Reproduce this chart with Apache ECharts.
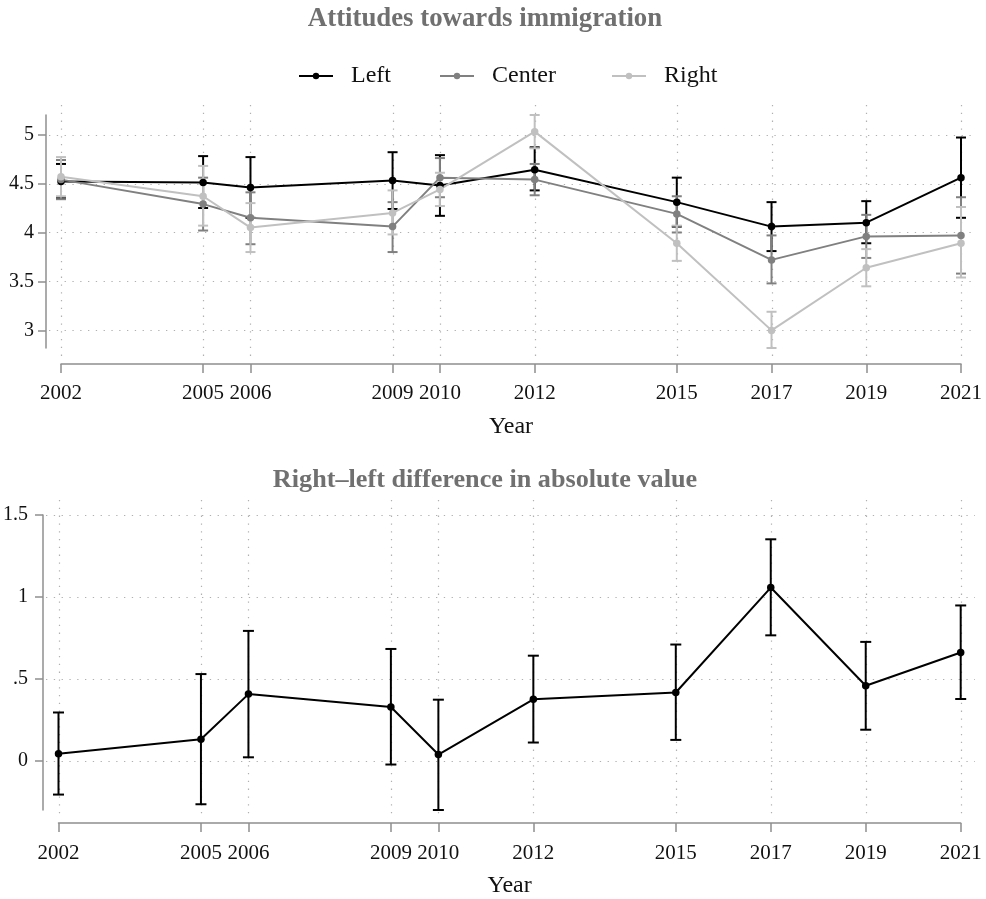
<!DOCTYPE html>
<html><head><meta charset="utf-8">
<script src="https://cdn.jsdelivr.net/npm/echarts@6/dist/echarts.min.js"></script>
<style>html,body{margin:0;padding:0;background:#fff}#c{width:986px;height:899px}</style>
</head><body><div id="c"></div>
<script>
// ---------------- data ----------------
const years = [2002, 2005, 2006, 2009, 2010, 2012, 2015, 2017, 2019, 2021];

const leftMean   = [4.52, 4.51, 4.46, 4.53, 4.48, 4.64, 4.31, 4.06, 4.10, 4.56];
const leftLow    = [4.35, 4.25, 4.15, 4.24, 4.17, 4.43, 4.06, 3.81, 3.89, 4.15];
const leftHigh   = [4.70, 4.78, 4.77, 4.82, 4.79, 4.87, 4.56, 4.31, 4.32, 4.97];

const centerMean = [4.54, 4.29, 4.15, 4.06, 4.56, 4.54, 4.19, 3.72, 3.96, 3.97];
const centerLow  = [4.34, 4.02, 3.88, 3.80, 4.36, 4.38, 4.00, 3.48, 3.74, 3.58];
const centerHigh = [4.74, 4.56, 4.41, 4.31, 4.76, 4.70, 4.37, 3.97, 4.18, 4.36];

const rightMean  = [4.57, 4.37, 4.05, 4.20, 4.44, 5.03, 3.89, 3.00, 3.64, 3.89];
const rightLow   = [4.37, 4.07, 3.80, 3.98, 4.27, 4.86, 3.71, 2.82, 3.45, 3.54];
const rightHigh  = [4.77, 4.68, 4.30, 4.43, 4.61, 5.20, 4.07, 3.19, 3.83, 4.26];

const diffMean   = [0.045, 0.134, 0.409, 0.330, 0.041, 0.377, 0.419, 1.058, 0.460, 0.662];
const diffLow    = [-0.203, -0.262, 0.024, -0.020, -0.297, 0.114, 0.130, 0.767, 0.192, 0.379];
const diffHigh   = [0.297, 0.531, 0.794, 0.684, 0.375, 0.643, 0.711, 1.352, 0.727, 0.949];

const topYTicks    = [3, 3.5, 4, 4.5, 5];
const topYLabels   = ['3', '3.5', '4', '4.5', '5'];
const bottomYTicks = [0, 0.5, 1, 1.5];
const bottomYLabels= ['0', '.5', '1', '1.5'];
const xTickLabels  = years.map(String);

const seriesNames = ['Left', 'Center', 'Right'];
const titleTop    = 'Attitudes towards immigration';
const titleBottom = 'Right\u2013left difference in absolute value';
const xTitle      = 'Year';

// ---------------- style / layout ----------------
const FONT = "'Liberation Serif', 'DejaVu Serif', serif";
const COLORS = ['#000000', '#808080', '#c0c0c0'];
const AXIS_COLOR = '#8f8f8f';
const GRID_COLOR = '#b0b0b0';

const panels = [
  { plot: {l: 46, r: 976, t: 105, b: 357}, xAx: {x0: 61, x1: 961, y: 364}, yAx: {x: 46, t: 115, b: 348},
    yTicks: topYTicks, yLabels: topYLabels, yMargin: 12, cap: 5, xMargin: 19,
    groups: [
      {name: 'Left', mean: leftMean, low: leftLow, high: leftHigh, color: COLORS[0]},
      {name: 'Center', mean: centerMean, low: centerLow, high: centerHigh, color: COLORS[1]},
      {name: 'Right', mean: rightMean, low: rightLow, high: rightHigh, color: COLORS[2]}
    ]},
  { plot: {l: 43, r: 975, t: 500, b: 818}, xAx: {x0: 58.5, x1: 960.7, y: 825}, yAx: {x: 43, t: 515, b: 810},
    yTicks: bottomYTicks, yLabels: bottomYLabels, yMargin: 15, cap: 5.5, xMargin: 20,
    groups: [
      {name: 'Difference', mean: diffMean, low: diffLow, high: diffHigh, color: COLORS[0]}
    ]}
];

const grids = [], xAxes = [], yAxes = [], series = [];

panels.forEach((p, pi) => {
  const allLow = [].concat(...p.groups.map(g => g.low));
  const allHigh = [].concat(...p.groups.map(g => g.high));
  const a = Math.min(Math.min(...allLow), p.yTicks[0]);
  const b = Math.max(Math.max(...allHigh), p.yTicks[p.yTicks.length - 1]);
  const xFirst = years[0], xLast = years[years.length - 1];
  const xk = (p.xAx.x1 - p.xAx.x0) / (xLast - xFirst);
  const yk = (p.yAx.b - p.yAx.t) / (b - a);
  const pxMin = xFirst - (p.xAx.x0 - p.plot.l) / xk;
  const pxMax = xLast + (p.plot.r - p.xAx.x1) / xk;
  const pyMax = b + (p.yAx.t - p.plot.t) / yk;
  const pyMin = a - (p.plot.b - p.yAx.b) / yk;

  const gPlot = grids.length;
  grids.push({left: p.plot.l, top: p.plot.t, width: p.plot.r - p.plot.l, height: p.plot.b - p.plot.t});
  xAxes.push({type: 'value', gridIndex: gPlot, min: pxMin, max: pxMax, show: false});
  yAxes.push({type: 'value', gridIndex: gPlot, min: pyMin, max: pyMax, show: false});
  const plotX = xAxes.length - 1, plotY = yAxes.length - 1;

  // x axis grid
  const gX = grids.length;
  grids.push({left: p.xAx.x0, top: p.xAx.y - 10, width: p.xAx.x1 - p.xAx.x0, height: 10});
  xAxes.push({
    type: 'value', gridIndex: gX, min: xFirst, max: xLast,
    name: xTitle, nameLocation: 'middle', nameGap: 51,
    nameTextStyle: {fontFamily: FONT, fontSize: 24, color: '#111'},
    axisLine: {show: true, onZero: false, lineStyle: {color: AXIS_COLOR, width: 1.5}},
    axisTick: {show: true, customValues: years, length: 9, lineStyle: {color: AXIS_COLOR, width: 1.5}},
    axisLabel: {show: true, customValues: years, margin: p.xMargin, fontFamily: FONT, fontSize: 21, color: '#111',
      formatter: v => xTickLabels[years.indexOf(v)] ?? String(v)},
    splitLine: {show: false}
  });
  yAxes.push({type: 'value', gridIndex: gX, min: 0, max: 1, show: false});

  // y axis grid
  const gY = grids.length;
  grids.push({left: p.yAx.x, top: p.yAx.t, width: 10, height: p.yAx.b - p.yAx.t});
  xAxes.push({type: 'value', gridIndex: gY, min: 0, max: 1, show: false});
  yAxes.push({
    type: 'value', gridIndex: gY, min: a, max: b,
    axisLine: {show: true, onZero: false, lineStyle: {color: AXIS_COLOR, width: 1.5}},
    axisTick: {show: true, customValues: p.yTicks, length: 8, lineStyle: {color: AXIS_COLOR, width: 1.5}},
    axisLabel: {show: true, customValues: p.yTicks, margin: p.yMargin, fontFamily: FONT, fontSize: 20, color: '#111',
      formatter: v => { const i = p.yTicks.indexOf(v); return i >= 0 ? p.yLabels[i] : ''; }},
    splitLine: {show: false}
  });

  // grid lines
  const dotted = {stroke: GRID_COLOR, lineWidth: 1.2, lineDash: [1.3, 6.5]};
  series.push({
    type: 'custom', name: 'vgrid' + pi, xAxisIndex: plotX, yAxisIndex: plotY, silent: true, z: 0,
    data: years.map(y => [y]), encode: {x: 0},
    renderItem: (params, api) => {
      const cs = params.coordSys;
      const x = Math.round(api.coord([api.value(0), pyMin])[0]) + 0.5;
      return {type: 'line', shape: {x1: x, y1: cs.y, x2: x, y2: cs.y + cs.height}, style: dotted};
    }
  });
  series.push({
    type: 'custom', name: 'hgrid' + pi, xAxisIndex: plotX, yAxisIndex: plotY, silent: true, z: 0,
    data: p.yTicks.map(v => [v]), encode: {y: 0},
    renderItem: (params, api) => {
      const cs = params.coordSys;
      const y = Math.round(api.coord([pxMin, api.value(0)])[1]) + 0.5;
      return {type: 'line', shape: {x1: cs.x + 3, y1: y, x2: cs.x + cs.width, y2: y}, style: dotted};
    }
  });

  // error bars
  p.groups.forEach(g => {
    series.push({
      type: 'custom', name: g.name + ' CI', xAxisIndex: plotX, yAxisIndex: plotY, silent: true, z: 2,
      data: years.map((y, i) => [y, g.low[i], g.high[i]]), encode: {x: 0, y: [1, 2]},
      renderItem: (params, api) => {
        const x = api.value(0);
        const p1 = api.coord([x, api.value(1)]);
        const p2 = api.coord([x, api.value(2)]);
        const st = {stroke: g.color, lineWidth: 2};
        const c = p.cap;
        return {type: 'group', children: [
          {type: 'line', shape: {x1: p1[0], y1: p1[1], x2: p2[0], y2: p2[1]}, style: st},
          {type: 'line', shape: {x1: p1[0] - c, y1: p1[1], x2: p1[0] + c, y2: p1[1]}, style: st},
          {type: 'line', shape: {x1: p2[0] - c, y1: p2[1], x2: p2[0] + c, y2: p2[1]}, style: st}
        ]};
      }
    });
  });
  // lines
  p.groups.forEach(g => {
    series.push({
      type: 'line', name: g.name, xAxisIndex: plotX, yAxisIndex: plotY, z: 3,
      data: years.map((y, i) => [y, g.mean[i]]),
      symbol: 'circle', symbolSize: 7.5, showSymbol: true,
      lineStyle: {color: g.color, width: 2}, itemStyle: {color: g.color},
      emphasis: {disabled: true}
    });
  });
});

const legendBase = {
  top: 64, itemWidth: 34, itemHeight: 8, padding: 0, selectedMode: false,
  textStyle: {fontFamily: FONT, fontSize: 24, color: '#111', padding: [0, 0, 0, 13]}
};

const option = {
  backgroundColor: '#ffffff',
  animation: false,
  grid: grids, xAxis: xAxes, yAxis: yAxes, series: series,
  legend: [
    Object.assign({}, legendBase, {data: [seriesNames[0]], left: 298}),
    Object.assign({}, legendBase, {data: [seriesNames[1]], left: 439}),
    Object.assign({}, legendBase, {data: [seriesNames[2]], left: 611})
  ],
  graphic: [
    {type: 'text', x: 485, y: 19, style: {text: titleTop, fontFamily: FONT, fontSize: 26.8, fontWeight: 'bold',
      fill: '#707070', textAlign: 'center', textVerticalAlign: 'middle'}},
    {type: 'text', x: 485, y: 480, style: {text: titleBottom, fontFamily: FONT, fontSize: 26.2, fontWeight: 'bold',
      fill: '#707070', textAlign: 'center', textVerticalAlign: 'middle'}}
  ]
};

const chart = echarts.init(document.getElementById('c'), null, {renderer: 'canvas'});
chart.setOption(option);
</script>
</body></html>
